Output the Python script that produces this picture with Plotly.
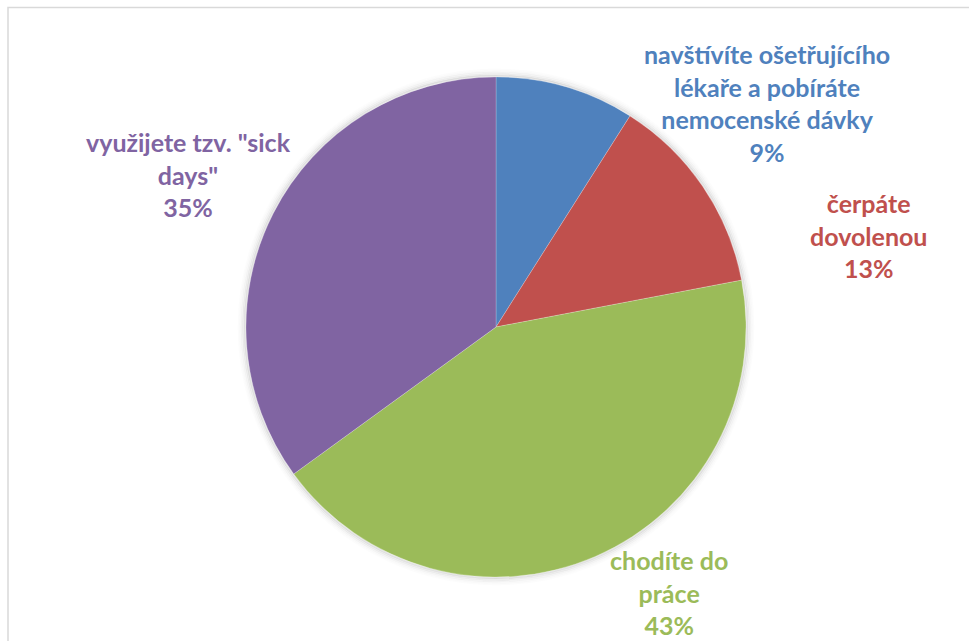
import plotly.graph_objects as go

# Survey answers: what respondents do when they are ill
categories = [
    "navštívíte ošetřujícího<br>lékaře a pobíráte<br>nemocenské dávky",
    "čerpáte<br>dovolenou",
    "chodíte do<br>práce",
    "využijete tzv. \"sick<br>days\"",
]
shares = [9, 13, 43, 35]
colors = ["#4F81BD", "#C0504D", "#9BBB59", "#8064A2"]

W, H = 969, 641

# Pie geometry (pixels)
cx, cy, r = 496, 327, 250

# Label block centres (pixels)
label_pos = [(767, 103), (868, 235), (669, 592), (188, 175)]

fig = go.Figure()
fig.add_trace(go.Pie(
    labels=[c.replace("<br>", " ") for c in categories],
    values=shares,
    sort=False,
    direction="clockwise",
    rotation=0,
    marker=dict(colors=colors, line=dict(color="rgba(255,255,255,0.35)", width=0.6)),
    textinfo="none",
    hoverinfo="label+percent",
    showlegend=False,
    domain=dict(x=[(cx - r) / W, (cx + r) / W], y=[(H - cy - r) / H, (H - cy + r) / H]),
))

for cat, val, col, (px, py) in zip(categories, shares, colors, label_pos):
    fig.add_annotation(
        x=px / W, y=1 - py / H, xref="paper", yref="paper",
        text=f"<b>{cat}<br>{val}%</b>",
        showarrow=False, xanchor="center", yanchor="middle", align="center",
        font=dict(family="Lato", size=25, color=col),
    )

# Soft outer shadow around the pie
for k, alpha in enumerate([0.10, 0.07, 0.045, 0.025, 0.012]):
    rr = r + 1 + k * 1.6
    fig.add_shape(type="circle", xref="paper", yref="paper", layer="below",
                  x0=(cx - rr) / W, x1=(cx + rr) / W,
                  y0=(H - cy - rr) / H, y1=(H - cy + rr) / H,
                  line=dict(color=f"rgba(0,0,0,{alpha})", width=2))

# Chart area frame
fig.add_shape(type="rect", xref="paper", yref="paper",
              x0=8 / W, x1=1.05, y0=-0.05, y1=1 - 7.5 / H,
              line=dict(color="#D9D9D9", width=1.5))

fig.update_layout(
    width=W, height=H,
    margin=dict(l=0, r=0, t=0, b=0),
    paper_bgcolor="white", plot_bgcolor="white",
)

fig.write_html("out.html")
